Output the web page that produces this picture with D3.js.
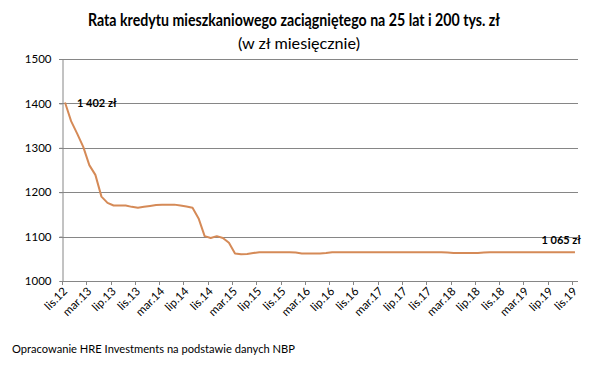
<!DOCTYPE html>
<html>
<head>
<meta charset="utf-8">
<script src="https://cdn.jsdelivr.net/npm/d3@7"></script>
<style>
  body { margin: 0; background: #fff; }
  text { font-family: Lato, "Open Sans", sans-serif; fill: #000; }
</style>
</head>
<body>
<div id="chart"></div>
<script>
// miesieczna rata, lis.12 - lis.19
var values = [1402, 1360, 1332, 1302, 1261, 1239, 1190, 1176, 1170, 1170,
  1170, 1167, 1165, 1167, 1169, 1171, 1172, 1172, 1172, 1170,
  1168, 1165, 1141, 1101, 1097, 1101, 1097, 1086, 1062, 1060,
  1061, 1063, 1065, 1065, 1065, 1065, 1065, 1065, 1064, 1062,
  1062, 1062, 1062, 1063, 1065, 1065, 1065, 1065, 1065, 1065,
  1065, 1065, 1065, 1065, 1065, 1065, 1065, 1065, 1065, 1065,
  1065, 1065, 1065, 1064, 1063, 1063, 1063, 1063, 1063, 1064,
  1065, 1065, 1065, 1065, 1065, 1065, 1065, 1065, 1065, 1065,
  1065, 1065, 1065, 1065, 1065];

var tickLabels = ["lis.12", "mar.13", "lip.13", "lis.13", "mar.14", "lip.14", "lis.14",
  "mar.15", "lip.15", "lis.15", "mar.16", "lip.16", "lis.16", "mar.17", "lip.17",
  "lis.17", "mar.18", "lip.18", "lis.18", "mar.19", "lip.19", "lis.19"];

var yTicks = [1000, 1100, 1200, 1300, 1400, 1500];

var startLabel = "1 402 zł";
var endLabel = "1 065 zł";

var width = 589, height = 368;
var plotL = 62, plotR = 578, plotT = 59, plotB = 281;

var svg = d3.select("#chart").append("svg")
  .attr("width", width)
  .attr("height", height);

var x = d3.scaleBand()
  .domain(d3.range(values.length))
  .range([plotL, plotR])
  .padding(0);

var y = d3.scaleLinear()
  .domain([1000, 1500])
  .range([plotB, plotT]);

// tytul
svg.append("text")
  .attr("x", 294).attr("y", 26)
  .attr("text-anchor", "middle")
  .style("font-size", "16.5px")
  .style("font-weight", "bold")
  .attr("textLength", 412)
  .attr("lengthAdjust", "spacingAndGlyphs")
  .text("Rata kredytu mieszkaniowego zaciągniętego na 25 lat i 200 tys. zł");

svg.append("text")
  .attr("x", 299).attr("y", 49)
  .attr("text-anchor", "middle")
  .style("font-size", "15px")
  .attr("textLength", 122)
  .attr("lengthAdjust", "spacingAndGlyphs")
  .text("(w zł miesięcznie)");

// siatka
svg.append("g")
  .selectAll("line")
  .data(yTicks.slice(1))
  .enter().append("line")
    .attr("x1", plotL - 3).attr("x2", plotR)
    .attr("y1", function(d) { return Math.round(y(d)) + 0.5; })
    .attr("y2", function(d) { return Math.round(y(d)) + 0.5; })
    .attr("stroke", "#868686")
    .attr("stroke-width", 1);

// os Y
var yAx = svg.append("g")
  .attr("transform", "translate(" + (plotL + 0.5) + ",0)")
  .call(d3.axisLeft(y).tickValues(yTicks).tickSize(3).tickPadding(8).tickFormat(d3.format("d")));
yAx.select(".domain").attr("stroke", "#868686");
yAx.selectAll(".tick line").attr("stroke", "#868686");
yAx.selectAll("text").style("font-size", "11.5px").style("font-family", "Lato, sans-serif").attr("fill", "#000");

// os X
var bw = x.bandwidth();
var xAx = svg.append("g");
xAx.append("line")
  .attr("x1", plotL).attr("x2", plotR)
  .attr("y1", plotB + 0.5).attr("y2", plotB + 0.5)
  .attr("stroke", "#868686");
xAx.selectAll(".tk")
  .data(d3.range(0, values.length + 1, 4))
  .enter().append("line")
    .attr("class", "tk")
    .attr("x1", function(d) { return Math.round(plotL + d * bw) + 0.5; })
    .attr("x2", function(d) { return Math.round(plotL + d * bw) + 0.5; })
    .attr("y1", plotB).attr("y2", plotB + 4)
    .attr("stroke", "#868686");

xAx.selectAll(".lbl")
  .data(tickLabels)
  .enter().append("text")
    .attr("class", "lbl")
    .attr("text-anchor", "end")
    .style("font-size", "11.5px")
    .attr("transform", function(d, i) {
      var cx = x(i * 4) + bw / 2 + 3;
      return "translate(" + cx + "," + (plotB + 11) + ") rotate(-45)";
    })
    .text(function(d) { return d; });

// linia
svg.append("path")
  .datum(values)
  .attr("fill", "none")
  .attr("stroke", "#D58A57")
  .attr("stroke-width", 2)
  .attr("stroke-linejoin", "round")
  .attr("d", d3.line()
    .x(function(d, i) { return x(i) + bw / 2; })
    .y(function(d) { return y(d); })
  );

// etykiety wartosci
svg.append("text")
  .attr("x", x(0) + bw / 2 + 12).attr("y", y(values[0]) + 4)
  .style("font-size", "11px")
  .style("font-weight", "bold")
  .text(startLabel);

svg.append("text")
  .attr("x", 581).attr("y", y(values[values.length - 1]) - 8)
  .attr("text-anchor", "end")
  .style("font-size", "11px")
  .style("font-weight", "bold")
  .text(endLabel);

// zrodlo
svg.append("text")
  .attr("x", 12).attr("y", 353)
  .style("font-size", "11px")
  .attr("textLength", 283)
  .attr("lengthAdjust", "spacingAndGlyphs")
  .text("Opracowanie HRE Investments na podstawie danych NBP");
</script>
</body>
</html>
